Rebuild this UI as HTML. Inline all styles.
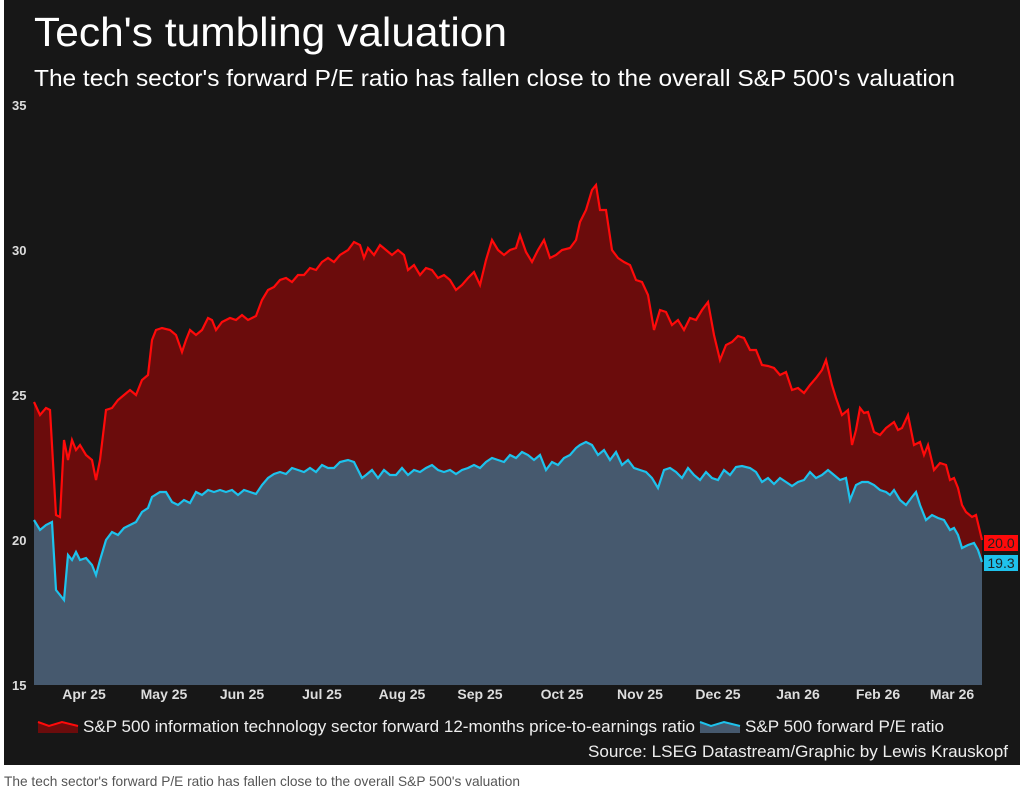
<!DOCTYPE html>
<html><head><style>
body{margin:0;width:1024px;height:794px;background:#fff;overflow:hidden;font-family:"Liberation Sans",sans-serif}
</style></head><body>
<svg width="1024" height="794" xmlns="http://www.w3.org/2000/svg" font-family="Liberation Sans, sans-serif">
<rect x="4" y="0" width="1016" height="765" fill="#171717"/>
<text x="34" y="46" font-size="41" fill="#fff" textLength="473" lengthAdjust="spacingAndGlyphs">Tech's tumbling valuation</text>
<text x="34" y="86" font-size="23" fill="#fff" textLength="921" lengthAdjust="spacingAndGlyphs">The tech sector's forward P/E ratio has fallen close to the overall S&amp;P 500's valuation</text>
<g font-size="13" font-weight="bold" fill="#ddd">
<text x="12" y="110">35</text><text x="12" y="255">30</text><text x="12" y="400">25</text><text x="12" y="545">20</text><text x="12" y="690">15</text>
</g>
<g font-size="14" font-weight="bold" fill="#ddd" text-anchor="middle">
<text x="84" y="699">Apr 25</text><text x="164" y="699">May 25</text><text x="242" y="699">Jun 25</text><text x="322" y="699">Jul 25</text><text x="402" y="699">Aug 25</text><text x="480" y="699">Sep 25</text><text x="562" y="699">Oct 25</text><text x="640" y="699">Nov 25</text><text x="718" y="699">Dec 25</text><text x="798" y="699">Jan 26</text><text x="878" y="699">Feb 26</text><text x="952" y="699">Mar 26</text>
</g>
<polygon fill="#6b0c0c" points="34,685 34,402 40,415 46,408 50,410 56,515 60,517 64,440 68,460 72,440 76,450 80,445 86,455 92,460 96,480 100,460 106,410 112,408 118,400 124,395 130,390 136,395 142,380 148,375 152,340 156,330 162,328 170,330 176,335 182,352 186,340 190,330 196,335 202,330 208,318 212,320 216,330 222,322 230,318 236,320 242,315 248,320 256,316 262,300 268,290 274,287 280,280 286,278 292,282 298,275 304,275 310,268 316,270 322,262 328,258 334,262 340,255 348,250 354,242 360,245 364,258 368,248 374,255 380,245 386,250 392,255 398,250 404,255 408,270 414,265 420,275 426,268 432,270 438,278 444,275 450,280 456,290 462,285 468,278 474,272 480,285 486,260 492,240 498,250 504,255 510,250 516,248 520,235 526,252 532,262 538,250 544,240 550,258 556,255 562,250 570,248 576,240 580,222 586,210 592,190 596,185 600,210 606,210 612,250 618,258 624,262 630,265 636,280 642,282 648,295 654,330 660,310 666,312 672,325 678,320 684,330 690,318 696,320 702,310 708,302 714,335 720,360 726,345 732,342 738,336 744,338 750,350 756,350 762,365 768,366 774,368 780,375 786,372 792,390 798,388 804,393 810,385 816,378 822,370 826,360 832,385 836,398 842,415 848,410 852,445 856,430 860,408 864,413 868,412 874,432 880,435 886,428 890,425 894,422 898,430 902,428 908,415 914,445 920,442 924,455 928,445 934,470 940,463 946,465 950,480 954,478 958,488 962,505 966,512 972,517 976,515 982,540 982,685"/>
<polyline fill="none" stroke="#ff0a0a" stroke-width="2.2" points="34,402 40,415 46,408 50,410 56,515 60,517 64,440 68,460 72,440 76,450 80,445 86,455 92,460 96,480 100,460 106,410 112,408 118,400 124,395 130,390 136,395 142,380 148,375 152,340 156,330 162,328 170,330 176,335 182,352 186,340 190,330 196,335 202,330 208,318 212,320 216,330 222,322 230,318 236,320 242,315 248,320 256,316 262,300 268,290 274,287 280,280 286,278 292,282 298,275 304,275 310,268 316,270 322,262 328,258 334,262 340,255 348,250 354,242 360,245 364,258 368,248 374,255 380,245 386,250 392,255 398,250 404,255 408,270 414,265 420,275 426,268 432,270 438,278 444,275 450,280 456,290 462,285 468,278 474,272 480,285 486,260 492,240 498,250 504,255 510,250 516,248 520,235 526,252 532,262 538,250 544,240 550,258 556,255 562,250 570,248 576,240 580,222 586,210 592,190 596,185 600,210 606,210 612,250 618,258 624,262 630,265 636,280 642,282 648,295 654,330 660,310 666,312 672,325 678,320 684,330 690,318 696,320 702,310 708,302 714,335 720,360 726,345 732,342 738,336 744,338 750,350 756,350 762,365 768,366 774,368 780,375 786,372 792,390 798,388 804,393 810,385 816,378 822,370 826,360 832,385 836,398 842,415 848,410 852,445 856,430 860,408 864,413 868,412 874,432 880,435 886,428 890,425 894,422 898,430 902,428 908,415 914,445 920,442 924,455 928,445 934,470 940,463 946,465 950,480 954,478 958,488 962,505 966,512 972,517 976,515 982,540"/>
<polygon fill="#46596e" points="34,685 34,520 40,530 46,525 52,522 56,590 60,595 64,600 68,555 72,560 76,552 80,560 86,558 92,565 96,575 100,560 106,540 112,532 118,535 124,528 130,525 136,522 142,512 148,508 152,497 160,492 166,492 172,502 178,505 184,500 190,503 196,492 202,495 208,490 214,492 220,490 226,492 232,490 238,495 244,490 250,492 256,494 262,485 268,478 274,474 280,472 286,474 292,468 298,470 304,472 310,468 316,472 322,465 328,468 334,468 340,462 348,460 354,462 358,470 362,478 366,475 372,470 378,478 384,470 390,475 396,475 402,468 408,475 414,470 420,472 426,468 432,465 438,470 444,472 450,470 456,474 462,470 468,468 474,465 480,468 486,462 492,458 498,460 504,462 510,455 516,458 522,452 528,455 534,460 540,455 546,470 552,462 558,465 564,458 570,455 576,448 580,445 586,442 592,445 598,455 604,450 610,460 616,452 622,465 628,460 634,468 640,470 646,472 652,478 658,488 664,470 670,468 676,472 682,478 688,468 694,475 700,480 706,472 712,478 718,480 724,470 730,475 736,467 742,466 750,468 756,472 762,482 768,478 774,484 780,478 786,482 792,486 798,482 804,480 810,472 816,478 822,475 828,470 834,475 840,480 846,478 850,500 856,485 862,482 868,482 874,485 880,490 886,492 890,495 894,490 900,500 906,505 912,497 916,492 920,505 926,520 932,515 938,518 944,520 950,530 954,528 958,535 962,548 968,545 974,543 978,550 982,562 982,685"/>
<polyline fill="none" stroke="#1ec2ec" stroke-width="2.2" points="34,520 40,530 46,525 52,522 56,590 60,595 64,600 68,555 72,560 76,552 80,560 86,558 92,565 96,575 100,560 106,540 112,532 118,535 124,528 130,525 136,522 142,512 148,508 152,497 160,492 166,492 172,502 178,505 184,500 190,503 196,492 202,495 208,490 214,492 220,490 226,492 232,490 238,495 244,490 250,492 256,494 262,485 268,478 274,474 280,472 286,474 292,468 298,470 304,472 310,468 316,472 322,465 328,468 334,468 340,462 348,460 354,462 358,470 362,478 366,475 372,470 378,478 384,470 390,475 396,475 402,468 408,475 414,470 420,472 426,468 432,465 438,470 444,472 450,470 456,474 462,470 468,468 474,465 480,468 486,462 492,458 498,460 504,462 510,455 516,458 522,452 528,455 534,460 540,455 546,470 552,462 558,465 564,458 570,455 576,448 580,445 586,442 592,445 598,455 604,450 610,460 616,452 622,465 628,460 634,468 640,470 646,472 652,478 658,488 664,470 670,468 676,472 682,478 688,468 694,475 700,480 706,472 712,478 718,480 724,470 730,475 736,467 742,466 750,468 756,472 762,482 768,478 774,484 780,478 786,482 792,486 798,482 804,480 810,472 816,478 822,475 828,470 834,475 840,480 846,478 850,500 856,485 862,482 868,482 874,485 880,490 886,492 890,495 894,490 900,500 906,505 912,497 916,492 920,505 926,520 932,515 938,518 944,520 950,530 954,528 958,535 962,548 968,545 974,543 978,550 982,562"/>
<rect x="984" y="535" width="34" height="16" fill="#ff0a0a"/>
<text x="1001" y="548" font-size="14" fill="#222" text-anchor="middle">20.0</text>
<rect x="984" y="555" width="34" height="16" fill="#1ec2ec"/>
<text x="1001" y="568" font-size="14" fill="#222" text-anchor="middle">19.3</text>
<polygon points="38,733 38,722 49,726 62,722 78,726 78,733" fill="#6b0c0c"/>
<polyline points="38,722 49,726 62,722 78,726" fill="none" stroke="#ff0a0a" stroke-width="2"/>
<text x="83" y="732" font-size="17" fill="#eee" textLength="612" lengthAdjust="spacingAndGlyphs">S&amp;P 500 information technology sector forward 12-months price-to-earnings ratio</text>
<polygon points="700,733 700,722 711,726 724,722 740,726 740,733" fill="#46596e"/>
<polyline points="700,722 711,726 724,722 740,726" fill="none" stroke="#1ec2ec" stroke-width="2"/>
<text x="745" y="732" font-size="17" fill="#eee" textLength="199" lengthAdjust="spacingAndGlyphs">S&amp;P 500 forward P/E ratio</text>
<text x="588" y="757" font-size="17" fill="#eee" textLength="420" lengthAdjust="spacingAndGlyphs">Source: LSEG Datastream/Graphic by Lewis Krauskopf</text>
<text x="4" y="786" font-size="14" fill="#555" textLength="516" lengthAdjust="spacingAndGlyphs">The tech sector's forward P/E ratio has fallen close to the overall S&amp;P 500's valuation</text>
</svg>
</body></html>
